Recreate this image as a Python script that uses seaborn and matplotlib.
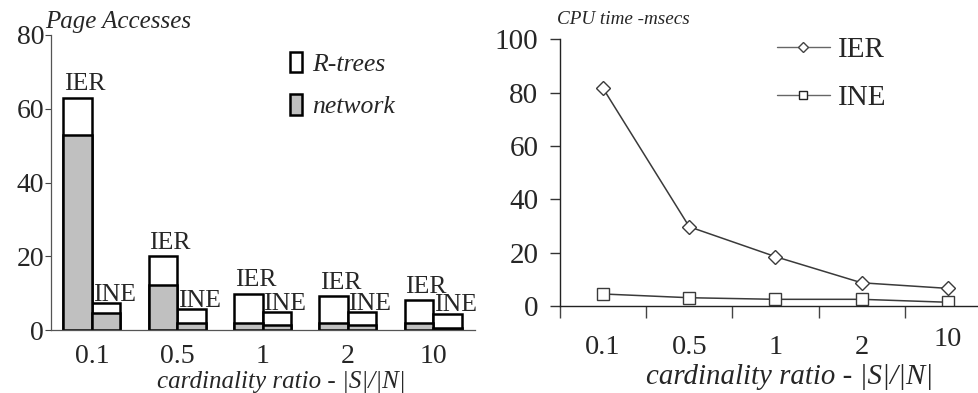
import matplotlib
matplotlib.use("Agg")
import matplotlib.pyplot as plt
import matplotlib.patches as mpatches
import matplotlib.lines as mlines
import seaborn as sns
import pandas as pd

# data
ratios = ["0.1", "0.5", "1", "2", "10"]
methods = ["IER", "INE"]
ier_total = [63, 20, 9.9, 9.2, 8.1]
ier_network = [53, 12.2, 1.8, 1.8, 1.8]
ine_total = [7.3, 5.6, 5.0, 5.0, 4.5]
ine_network = [4.6, 1.8, 1.4, 1.4, 0.6]
cpu_ier = [81.6, 29.7, 18.5, 8.7, 6.6]
cpu_ine = [4.5, 3.1, 2.5, 2.5, 1.4]

df = pd.DataFrame({
    "ratio": ratios * 2,
    "method": ["IER"] * 5 + ["INE"] * 5,
    "total": ier_total + ine_total,
    "network": ier_network + ine_network,
})
cpu = pd.DataFrame({
    "ratio": ratios * 2,
    "method": ["IER"] * 5 + ["INE"] * 5,
    "time": cpu_ier + cpu_ine,
})

sns.set_style("white")
plt.rcParams["font.family"] = ["Liberation Serif", "DejaVu Serif"]

fig = plt.figure(figsize=(9.79, 3.93), dpi=100)
ax1 = fig.add_axes([0.0521, 0.160, 0.433, 0.751])
ax2 = fig.add_axes([0.572, 0.2214, 0.427, 0.6786])

# ---- left: page accesses (stacked bars) ----
sns.barplot(data=df, x="ratio", y="total", hue="method", order=ratios,
            hue_order=methods, palette=["white", "white"], saturation=1,
            edgecolor="black", linewidth=1.8, width=0.668, legend=False, ax=ax1)
sns.barplot(data=df, x="ratio", y="network", hue="method", order=ratios,
            hue_order=methods, palette=["#c0c0c0", "#c0c0c0"], saturation=1,
            edgecolor="black", linewidth=1.8, width=0.668, legend=False, ax=ax1)

label_lift = {"IER": 5.5, "INE": 1.5}
for cont, name in zip(ax1.containers[:2], methods):
    for bar in cont:
        ax1.annotate(name, (bar.get_x(), bar.get_height()),
                     xytext=(0.5, label_lift[name]),
                     textcoords="offset points", ha="left", va="baseline",
                     fontsize=18.5)

ax1.set_xlim(-0.48, 4.49)
ax1.set_ylim(0, 80)
ax1.set_yticks([0, 20, 40, 60, 80])
ax1.tick_params(axis="y", left=True, length=4, width=0.8, pad=1,
                labelsize=20, color="#444444")
ax1.tick_params(axis="x", bottom=False, length=0, pad=10, labelsize=20)
ax1.set_xlabel("")
ax1.set_ylabel("")
for s in ["top", "right"]:
    ax1.spines[s].set_visible(False)
for s in ["left", "bottom"]:
    ax1.spines[s].set_color("#555555")
    ax1.spines[s].set_linewidth(0.9)

h1 = [mpatches.Patch(facecolor="white", edgecolor="black", linewidth=1.8),
      mpatches.Patch(facecolor="#c0c0c0", edgecolor="black", linewidth=1.8)]
ax1.legend(h1, ["R-trees", "network"], loc="upper left",
           bbox_to_anchor=(290 / 979, 1 - 52 / 393),
           bbox_transform=fig.transFigure, frameon=False, borderpad=0,
           borderaxespad=0, handlelength=0.45, handleheight=0.85,
           handletextpad=0.4, labelspacing=0.7,
           prop={"style": "italic", "size": 18.5})

fig.text(45 / 979, 1 - 22 / 393, "Page Accesses", style="italic",
         fontsize=18, ha="left", va="center")
fig.text(281 / 979, 1 - 382 / 393, "cardinality ratio - |S|/|N|",
         style="italic", fontsize=18, ha="center", va="center")

# ---- right: cpu time (lines) ----
line_col = "#3a3a3a"
sns.lineplot(data=cpu[cpu.method == "IER"], x="ratio", y="time",
             color=line_col, linewidth=1.1, marker="D", markersize=7,
             markerfacecolor="white", markeredgecolor=line_col,
             markeredgewidth=1, ax=ax2)
sns.lineplot(data=cpu[cpu.method == "INE"], x="ratio", y="time",
             color=line_col, linewidth=1.1, marker="s", markersize=9,
             markerfacecolor="white", markeredgecolor=line_col,
             markeredgewidth=1, ax=ax2)

ax2.set_xlim(-0.5, 4.35)
ax2.set_ylim(0, 100)
ax2.set_yticks([0, 20, 40, 60, 80, 100])
ax2.tick_params(axis="y", left=True, direction="out", length=7, width=1,
                pad=8.5, labelsize=21, color="#333333")
ax2.set_xticks(range(len(ratios)))
ax2.set_xticklabels([])
ax2.tick_params(axis="x", which="major", bottom=False, length=0)
ax2.set_xticks([i - 0.5 for i in range(len(ratios))], minor=True)
ax2.tick_params(axis="x", which="minor", bottom=True, direction="out",
                length=8.5, width=1, color="#444444")
label_y = [-0.1575, -0.1575, -0.1575, -0.1575, -0.1275]
for i, (lab, yy) in enumerate(zip(ratios, label_y)):
    ax2.text(i, yy, lab, transform=ax2.get_xaxis_transform(), ha="center",
             va="center", fontsize=20.5)
ax2.set_xlabel("")
ax2.set_ylabel("")
for s in ["top", "right"]:
    ax2.spines[s].set_visible(False)
for s in ["left", "bottom"]:
    ax2.spines[s].set_color("#222222")
    ax2.spines[s].set_linewidth(1)

h2 = [mlines.Line2D([], [], color="#666666", linewidth=1, marker="D",
                    markersize=5, markerfacecolor="white",
                    markeredgecolor="#444444"),
      mlines.Line2D([], [], color="#666666", linewidth=1, marker="s",
                    markersize=6, markerfacecolor="white",
                    markeredgecolor="#222222")]
ax2.legend(h2, ["IER", "INE"], loc="upper left",
           bbox_to_anchor=(777 / 979, 1 - 37 / 393),
           bbox_transform=fig.transFigure, frameon=False, borderpad=0,
           borderaxespad=0, handlelength=1.8, handletextpad=0.3,
           labelspacing=0.72, prop={"size": 21})

fig.text(557 / 979, 1 - 19 / 393, "CPU time -msecs", style="italic",
         fontsize=13.8, ha="left", va="center")
fig.text(790 / 979, 1 - 377 / 393, "cardinality ratio - |S|/|N|",
         style="italic", fontsize=20.8, ha="center", va="center")

fig.savefig("out.png", dpi=100)
